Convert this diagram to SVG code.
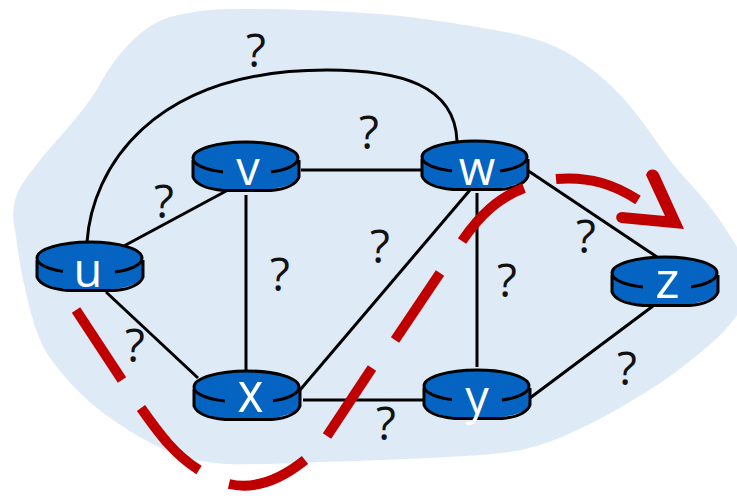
<svg xmlns="http://www.w3.org/2000/svg" width="737" height="500" viewBox="0 0 737 500">
<style>
.l{fill:none;stroke:#000;stroke-width:3}
.r{fill:none;stroke:#c00000;stroke-width:10}
.q{font-family:"Open Sans","Noto Sans",sans-serif;font-size:46px;fill:#111;text-anchor:middle}
.n{font-family:"Open Sans","Noto Sans",sans-serif;font-size:47px;fill:#fff;text-anchor:middle}
.b{fill:#0563c1;stroke:none}
.o{fill:none;stroke:#000;stroke-width:3}
</style>
<defs>
<g id="router">
<path class="b" d="M0 16V34C0 42 24 49 53 49S106 42 106 34V16Z"/>
<ellipse class="b" cx="53" cy="16" rx="52.500" ry="16"/>
<path class="o" d="M31 30C13 28 0 23 0 16C0 7 24 0 53 0S105 7 105 16C105 23 93 28 78 30"/>
<path class="o" d="M0 18V35C3 43 15 47 31 48.500H78C93 47 103 43 106 35V18"/>
</g>
</defs>
<path id="cloud" fill="#deeaf6" d="M14.500 227Q10 205 21 186Q33 167 61.500 135Q90 103 101.500 81.500Q113 60 131.500 41.500Q150 23 168.500 17.500Q187 12 210 10Q233 8 301 10Q370 12 418 18Q467 25 500 31Q534 37 554 46Q574 55 594 71Q614 87 629 105Q644 123 659 145Q674 167 694 188Q714 210 725 228Q737 247 748 263Q760 280 748 298Q737 317 725 330Q713 343 690 361Q667 380 633 400Q600 420 575 431Q550 443 525 449Q500 455 446 457Q393 460 321 462Q250 465 228 464Q207 463 187 458Q167 453 133 433Q100 413 80 393Q60 373 48 355Q37 337 31 313Q25 290 21 270Q18 250 14.500 227Z"/>
<g id="connectors">
<path class="l" d="M87 242C92 170 150 70 327 70C400 70 455 85 457 141"/>
<path class="l" d="M122 247L228 190"/>
<path class="l" d="M106 292L198 378"/>
<path class="l" d="M246 195V372"/>
<path class="l" d="M301 170H422"/>
<path class="l" d="M300 390L470 190"/>
<path class="l" d="M303 400H425"/>
<path class="l" d="M477 193V367"/>
<path class="l" d="M527 170L657 257"/>
<path class="l" d="M530 398L653 306"/>
</g>
<g id="labels-q">
<text class="q" x="256" y="67">?</text>
<text class="q" x="369" y="149">?</text>
<text class="q" x="164" y="218">?</text>
<text class="q" x="280" y="291">?</text>
<text class="q" x="380" y="263">?</text>
<text class="q" x="507" y="297">?</text>
<text class="q" x="586" y="253">?</text>
<text class="q" x="135" y="362">?</text>
<text class="q" x="386" y="440">?</text>
<text class="q" x="627" y="385">?</text>
</g>
<g id="node-u"><use href="#router" x="37" y="242"/><rect class="b" x="63" y="262" width="48" height="27"/><text class="n" x="88" y="287">u</text></g>
<g id="node-v"><use href="#router" x="193" y="142"/><rect class="b" x="223" y="162" width="48" height="27"/><text class="n" x="248" y="185">v</text></g>
<g id="node-w"><use href="#router" x="422" y="141"/><rect class="b" x="452" y="161" width="47" height="27"/><text class="n" x="477" y="185">w</text></g>
<g id="node-z"><use href="#router" x="612" y="257"/><rect class="b" x="643" y="277" width="48" height="27"/><text class="n" x="667.500" y="298" style="font-size:52px">z</text></g>
<g id="node-x"><use href="#router" x="194" y="371"/><rect class="b" x="225" y="391" width="48" height="27"/><text class="n" x="250.500" y="412" style="font-size:56px" textLength="26" lengthAdjust="spacingAndGlyphs">x</text></g>
<g id="node-y"><use href="#router" x="424" y="370"/><rect class="b" x="452" y="390" width="48" height="27"/><text class="n" x="477" y="414">y</text></g>
<g id="path-arrow">
<path class="r" d="M76 310L122 380"/>
<path class="r" d="M141 408C160 435 175 455 199 470"/>
<path class="r" d="M229 484C255 490 280 480 305 460"/>
<path class="r" d="M327 436L372 368"/>
<path class="r" d="M395 340L440 273"/>
<path class="r" d="M462 241C480 215 498 198 524 188"/>
<path class="r" d="M556 179C590 176 615 185 638 200"/>
<path fill="#c00000" d="M646 175C648 168 656 168 659 174L684 229L621 223C614 221 615 212 622 212L665 216Z"/>
</g>
</svg>
